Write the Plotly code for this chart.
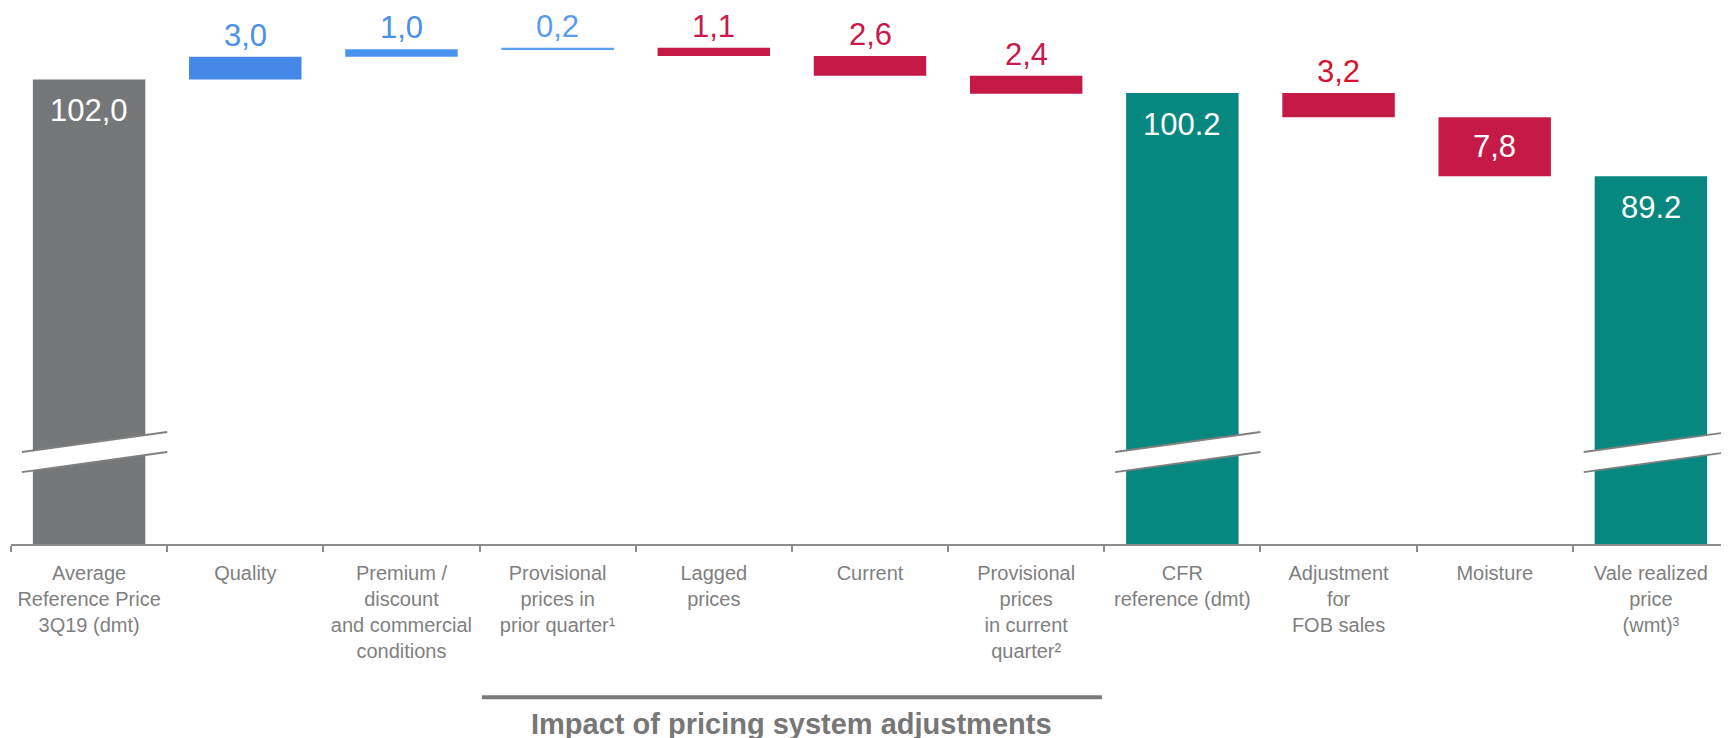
import plotly.graph_objects as go

# ---------------- data ----------------
categories = [
    "Average<br>Reference Price<br>3Q19 (dmt)",
    "Quality",
    "Premium /<br>discount<br>and commercial<br>conditions",
    "Provisional<br>prices in<br>prior quarter¹",
    "Lagged<br>prices",
    "Current",
    "Provisional<br>prices<br>in current<br>quarter²",
    "CFR<br>reference (dmt)",
    "Adjustment<br>for<br>FOB sales",
    "Moisture",
    "Vale realized<br>price<br>(wmt)³",
]
kinds = ["total", "up", "up", "up", "down", "down", "down", "total", "down", "down", "total"]
values = [102.0, 3.0, 1.0, 0.2, 1.1, 2.6, 2.4, 100.2, 3.2, 7.8, 89.2]
value_labels = ["102,0", "3,0", "1,0", "0,2", "1,1", "2,6", "2,4", "100.2", "3,2", "7,8", "89.2"]
group_title = "Impact of pricing system adjustments"
group_first, group_last = 3, 6
break_bars = [0, 7, 10]

# ---------------- styles ----------------
bar_colors = ["#767779", "#4688E8", "#4B93F0", "#5CA1F5", "#C61A46", "#C61A46",
              "#C61A46", "#06877F", "#C61A46", "#C61A46", "#06877F"]
label_colors = ["#FFFFFF", "#4A8FE8", "#4A8FE8", "#5A9CF0", "#C8194A", "#C8194A",
                "#C8194A", "#FFFFFF", "#D4142E", "#FFFFFF", "#FFFFFF"]
label_inside_middle = [False] * 11
label_inside_middle[9] = True
GREY = "#7F7F7F"
AXIS_GREY = "#8C8C8C"
Y_RANGE = [40.5, 111.2]
VAL_FONT = 31

# ---------------- waterfall geometry from data ----------------
bases, heights = [], []
level = 0.0
for k, v in zip(kinds, values):
    if k == "total":
        level = v
        bases.append(0.0)
        heights.append(v)
    elif k == "up":
        bases.append(level)
        heights.append(v)
        level += v
    else:
        level -= v
        bases.append(level)
        heights.append(v)

xs = list(range(len(categories)))

fig = go.Figure()
fig.add_trace(go.Bar(
    x=xs, y=heights, base=bases, width=0.72,
    marker=dict(color=bar_colors, line=dict(width=0)),
    hoverinfo="skip", showlegend=False,
))

annotations = []
for i, (k, b, h, t, c) in enumerate(zip(kinds, bases, heights, value_labels, label_colors)):
    top = b + h
    if k == "total":
        annotations.append(dict(x=i, y=top, text=t, showarrow=False, yanchor="top",
                                yshift=-12, font=dict(size=VAL_FONT, color=c)))
    elif label_inside_middle[i]:
        annotations.append(dict(x=i, y=b + h / 2, text=t, showarrow=False, yanchor="middle",
                                font=dict(size=VAL_FONT, color=c)))
    else:
        annotations.append(dict(x=i, y=top, text=t, showarrow=False, yanchor="bottom",
                                yshift=2, font=dict(size=VAL_FONT, color=c)))

# group bracket + title
annotations.append(dict(
    x=(group_first + group_last) / 2, xref="x", y=-0.338, yref="paper",
    text="<b>" + group_title + "</b>", showarrow=False, yanchor="middle",
    font=dict(size=29, color="#777777", family="Liberation Sans, Arial, sans-serif"),
))

shapes = [dict(
    type="line", xref="x", yref="paper",
    x0=group_first - 0.485, x1=group_last + 0.485, y0=-0.287, y1=-0.287,
    line=dict(color="#7A7A7A", width=4),
)]

# axis-break marks
for i in break_bars:
    x0, x1 = i - 0.43, i + 0.5
    yll, ylr = 50.03, 52.68
    gap = 2.65
    shapes.append(dict(
        type="path", xref="x", yref="y",
        path=f"M {x0},{yll} L {x1},{ylr} L {x1},{ylr + gap} L {x0},{yll + gap} Z",
        fillcolor="white", line=dict(width=0), layer="above",
    ))
    for off in (0, gap):
        shapes.append(dict(
            type="line", xref="x", yref="y",
            x0=x0, y0=yll + off, x1=x1, y1=ylr + off,
            line=dict(color="#808080", width=1.8), layer="above",
        ))

# the page body adds an 8px offset; margins compensate for it
fig.update_layout(
    width=1729, height=738,
    margin=dict(l=3, r=8, t=2, b=202),
    paper_bgcolor="white", plot_bgcolor="white",
    annotations=annotations,
    shapes=shapes,
    font=dict(family="Liberation Sans, Arial, sans-serif"),
)
fig.update_xaxes(
    range=[-0.5, len(categories) - 0.5],
    tickmode="array", tickvals=xs, ticktext=categories,
    ticks="", showgrid=False, zeroline=False,
    showline=True, linecolor=AXIS_GREY, linewidth=2,
    tickfont=dict(size=20, color=GREY,
                  family="Liberation Sans Narrow, Arial Narrow, Liberation Sans, Arial, sans-serif"),
    ticklabelstandoff=10,
    minor=dict(tickvals=[i - 0.5 for i in range(len(categories) + 1)], ticks="outside",
               ticklen=6, tickcolor=AXIS_GREY, tickwidth=1.5, showgrid=False),
    fixedrange=True,
)
fig.update_yaxes(range=Y_RANGE, visible=False, showgrid=False, fixedrange=True)

fig.write_html("out.html")
